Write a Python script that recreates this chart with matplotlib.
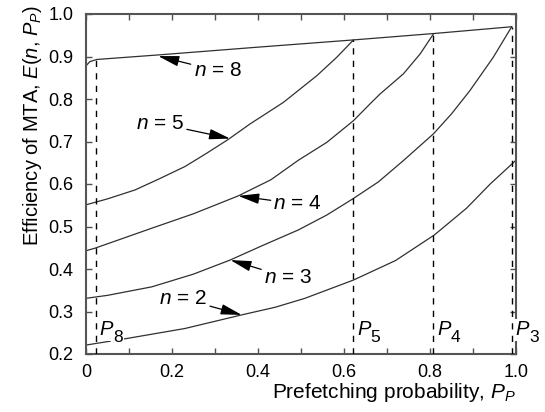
import matplotlib
matplotlib.use("Agg")
import matplotlib.pyplot as plt
from matplotlib.ticker import MultipleLocator, FixedLocator

plt.rcParams['font.family'] = ['Liberation Sans', 'DejaVu Sans']
plt.rcParams['mathtext.fontset'] = 'custom'
plt.rcParams['mathtext.rm'] = 'Liberation Sans'
plt.rcParams['mathtext.it'] = 'Liberation Sans:italic'

# ---- data ----
p_n8 = [0.0, 0.009, 0.025, 0.172, 0.40, 0.622, 0.808, 0.99]
e_n8 = [0.878, 0.888, 0.893, 0.904, 0.922, 0.939, 0.954, 0.970]

p_n5 = [0.0, 0.05, 0.114, 0.17, 0.23, 0.28, 0.331, 0.381, 0.459, 0.537, 0.583, 0.622]
e_n5 = [0.551, 0.565, 0.586, 0.612, 0.641, 0.672, 0.705, 0.741, 0.792, 0.855, 0.898, 0.939]

p_n4 = [0.0, 0.021, 0.08, 0.153, 0.25, 0.354, 0.43, 0.494, 0.56, 0.622, 0.66, 0.684, 0.738, 0.777, 0.808]
e_n4 = [0.443, 0.449, 0.470, 0.496, 0.530, 0.572, 0.610, 0.656, 0.698, 0.749, 0.788, 0.812, 0.859, 0.906, 0.953]

p_n3 = [0.0, 0.05, 0.153, 0.25, 0.335, 0.41, 0.494, 0.56, 0.622, 0.68, 0.738, 0.808, 0.85, 0.893, 0.947, 0.99]
e_n3 = [0.331, 0.338, 0.358, 0.388, 0.421, 0.455, 0.492, 0.527, 0.566, 0.605, 0.655, 0.718, 0.765, 0.820, 0.898, 0.970]

p_n2 = [0.0, 0.098, 0.23, 0.362, 0.44, 0.509, 0.622, 0.72, 0.81, 0.885, 0.94, 1.0]
e_n2 = [0.221, 0.237, 0.260, 0.292, 0.310, 0.331, 0.374, 0.420, 0.480, 0.543, 0.600, 0.656]

p_marks = [0.0225, 0.622, 0.808, 0.99]
e_marks = [0.893, 0.939, 0.954, 0.970]
mark_subs = ["8", "5", "4", "3"]

x_ticks = [0.0, 0.2, 0.4, 0.6, 0.8, 1.0]
x_ticklabels = ["0", "0.2", "0.4", "0.6", "0.8", "1.0"]
y_ticks = [0.2, 0.3, 0.4, 0.5, 0.6, 0.7, 0.8, 0.9, 1.0]
y_ticklabels = ["0.2", "0.3", "0.4", "0.5", "0.6", "0.7", "0.8", "0.9", "1.0"]

# ---- figure ----
fig = plt.figure(figsize=(5.45, 4.12), dpi=100)
ax = fig.add_axes([86/545, 1-354/412, 430/545, 340/412])

curve_kw = dict(color='#303030', lw=0.9, zorder=2)
for p, e in [(p_n8, e_n8), (p_n5, e_n5), (p_n4, e_n4), (p_n3, e_n3), (p_n2, e_n2)]:
    ax.plot(p, e, **curve_kw)

for p, e in zip(p_marks, e_marks):
    ax.plot([p, p], [0.2, e], color='black', lw=1.0, linestyle=(0, (4.5, 4.5)), zorder=3)

ax.set_xlim(0, 1.0)
ax.set_ylim(0.2, 1.0)

ax.xaxis.set_major_locator(FixedLocator(x_ticks))
ax.set_xticklabels(x_ticklabels)
ax.xaxis.set_minor_locator(MultipleLocator(0.1))
ax.yaxis.set_major_locator(FixedLocator(y_ticks))
ax.set_yticklabels(y_ticklabels)

ax.tick_params(which='both', direction='in', top=True, right=True,
               length=4, width=1.0, color='#505050', labelsize=13)
ax.tick_params(axis='y', pad=9)
ax.tick_params(axis='x', pad=7)
for s in ax.spines.values():
    s.set_color('#555555')
    s.set_linewidth(1.5)

ax.set_xlabel(r"Prefetching probability, $P_P$", fontsize=15, labelpad=0, loc='right')
ax.set_ylabel(r"Efficiency of MTA, $E$($n$, $P_P$)", fontsize=14.5, labelpad=3, loc='top')
ax.yaxis.label.set_y(1.025)

# annotations
arrow = dict(arrowstyle='-|>,head_length=0.8,head_width=0.2', color='black', lw=0.9,
             mutation_scale=16, shrinkA=0, shrinkB=0)
ann_fs = 15
ax.annotate(r"$n$ = 8", xy=(0.168, 0.901), xytext=(0.250, 0.866),
            fontsize=ann_fs, ha='left', va='center', arrowprops=arrow)
ax.annotate(r"$n$ = 5", xy=(0.335, 0.707), xytext=(0.228, 0.742),
            fontsize=ann_fs, ha='right', va='center', arrowprops=arrow)
ax.annotate(r"$n$ = 4", xy=(0.354, 0.572), xytext=(0.436, 0.553),
            fontsize=ann_fs, ha='left', va='center', arrowprops=arrow)
ax.annotate(r"$n$ = 3", xy=(0.336, 0.421), xytext=(0.414, 0.380),
            fontsize=ann_fs, ha='left', va='center', arrowprops=arrow)
ax.annotate(r"$n$ = 2", xy=(0.362, 0.292), xytext=(0.282, 0.330),
            fontsize=ann_fs, ha='right', va='center', arrowprops=arrow)

box = dict(boxstyle='square,pad=0.08', fc='white', ec='none')
for p, sub in zip(p_marks, mark_subs):
    ax.text(p + 0.009, 0.244, "P", fontsize=14.5, style='italic', ha='left',
            va='baseline', zorder=5, clip_on=False, bbox=box)
    ax.annotate(sub, xy=(p + 0.009, 0.244), xytext=(9.6, -4.5),
                textcoords='offset points', fontsize=12.5, ha='left',
                va='baseline', zorder=5, annotation_clip=False, bbox=box)

fig.savefig("out.png", dpi=100)
